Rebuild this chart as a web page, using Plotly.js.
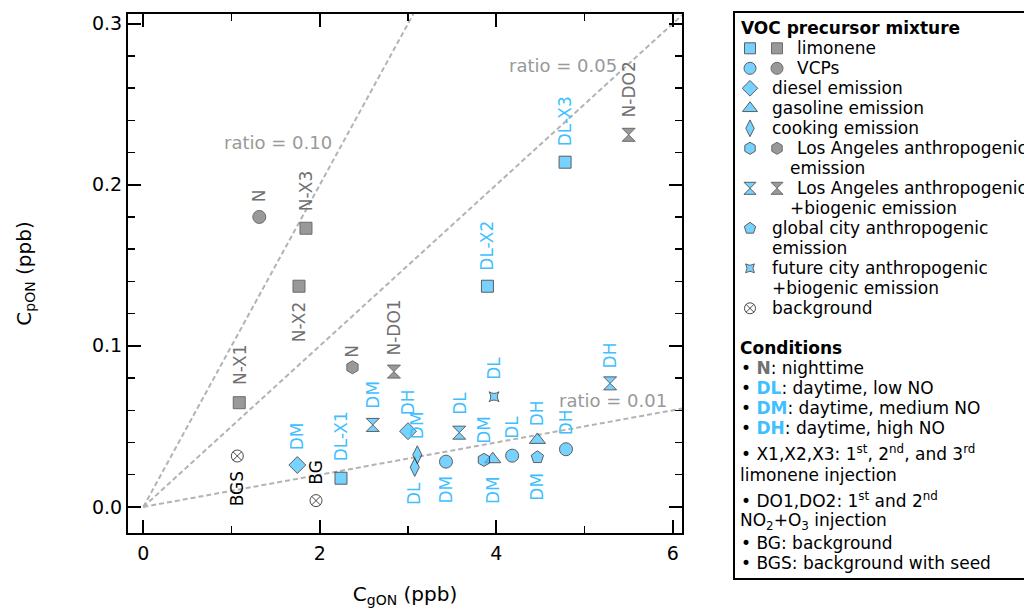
<!DOCTYPE html>
<html><head><meta charset="utf-8">
<script src="https://cdn.plot.ly/plotly-3.0.1.min.js"></script>
<style>html,body{margin:0;padding:0;background:#fff}#chart{width:1024px;height:608px}</style>
</head><body><div id="chart"></div>
<script>
// ---------------- data ----------------
const mixtureNames = ['limonene','VCPs','diesel emission','gasoline emission','cooking emission',
  'Los Angeles anthropogenic emission','Los Angeles anthropogenic +biogenic emission',
  'global city anthropogenic emission','future city anthropogenic +biogenic emission','background'];
const pointLabel = ['N-X1','N-X2','N-X3','N','N','N-DO1','N-DO2',
  'DL-X1','DL-X2','DL-X3','DM','DL','DH','DM','DH','DM','DH','DM','DL','DM','DM','DL','DH','DM','DL',
  'BGS','BG'];
const pointMixture = [0,0,0,1,5,6,6, 0,0,0,1,1,1,2,2,3,3,4,4,5,6,6,6,7,8, 9,9];
const pointCondition = ['N','N','N','N','N','N','N',
  'DL','DL','DL','DM','DL','DH','DM','DH','DM','DH','DM','DL','DM','DM','DL','DH','DM','DL',
  'BGS','BG'];
const gON = [1.087,1.764,1.843,1.314,2.37,2.84,5.50,
  2.24,3.90,4.78,3.43,4.18,4.79,1.745,3.00,3.96,4.466,3.105,3.076,3.86,2.60,3.58,5.29,4.466,3.975,
  1.065,1.957];
const pON = [0.0647,0.137,0.173,0.180,0.0867,0.084,0.231,
  0.0178,0.137,0.214,0.0281,0.0318,0.0358,0.026,0.047,0.0296,0.0416,0.0323,0.0246,0.0292,0.0509,0.0461,0.0767,0.0308,0.0684,
  0.0316,0.0039];
const ratios = [0.10, 0.05, 0.01];
const ratioLabels = ['ratio = 0.10','ratio = 0.05','ratio = 0.01'];
const xTickVals = [0,2,4,6];
const yTickVals = [0,0.1,0.2,0.3];

// ---------------- style / layout ----------------
const FONT = 'DejaVu Sans, Verdana, sans-serif';
const BLUE = '#3fbfff', GREY = '#6e6e6e', LGREY = '#707070';
const mixtureSymbol = ['square','circle','diamond','triangle-up','diamond-tall','hexagon','hourglass','pentagon','star-square','circle-x-open'];
const mixtureSize = [12,13,13,14,13,13,13,13,9,12];
const labelShift = [38,-36,37,21,16,44,45, 42,41,41,-28,28,27,29,29,-31,27,30,-26,30,30,29,28,-29,28, -33,28];
const ratioLabelAt = [[1.526,0.2264],[4.757,0.2742],[5.324,0.0658]];
const xRange = [-0.174, 6.105], yRange = [-0.0162, 0.306];
const W = 1024, H = 608;
const PL = 128, PR = 682, PT = 14, PB = 533;

function groupOf(c){ return c === 'N' ? 'night' : (c.indexOf('BG') === 0 ? 'bg' : 'day'); }
const gStyle = {
  night: {fill: GREY, line: '#2e2e2e', label: LGREY},
  day:   {fill: BLUE, line: '#1a1a1a', label: BLUE},
  bg:    {fill: '#000', line: '#000', label: '#000'}
};

const traces = [];
ratios.forEach(r => {
  const xEnd = Math.min(xRange[1], yRange[1] / r);
  traces.push({x:[0, xEnd], y:[0, r * xEnd], mode:'lines', xaxis:'x', yaxis:'y',
    line:{color:'#b3b3b3', width:2, dash:'5px,3px'}, hoverinfo:'skip', showlegend:false});
});
['night','day','bg'].forEach(g => {
  const idx = pointLabel.map((_, i) => i).filter(i => groupOf(pointCondition[i]) === g);
  traces.push({x: idx.map(i => gON[i]), y: idx.map(i => pON[i]), mode:'markers', xaxis:'x', yaxis:'y',
    marker:{symbol: idx.map(i => mixtureSymbol[pointMixture[i]]), size: idx.map(i => mixtureSize[pointMixture[i]]),
      color: gStyle[g].fill, line:{color: gStyle[g].line, width: 1}},
    showlegend:false, cliponaxis:false});
});

// legend (custom box) rows: one text line = 20 px
const mixtureDisplay = [['limonene'],['VCPs'],['diesel emission'],['gasoline emission'],['cooking emission'],
  ['Los Angeles anthropogenic','emission'],['Los Angeles anthropogenic','+biogenic emission'],
  ['global city anthropogenic','emission'],['future city anthropogenic','+biogenic emission'],['background']];
const rowY = []; let line = 0;
mixtureDisplay.forEach(d => { rowY.push(48.3 + 20 * line); line += d.length; });
const hasGroup = g => mixtureNames.map((_, m) => pointMixture.some((pm, i) => pm === m && groupOf(pointCondition[i]) === g));
const hasDay = hasGroup('day'), hasNight = hasGroup('night'), hasBg = hasGroup('bg');
function legendTrace(mask, xpx, g){
  const ms = mixtureNames.map((_, m) => m).filter(m => mask[m]);
  return {x: ms.map(() => xpx), y: ms.map(m => rowY[m]), xaxis:'x2', yaxis:'y2', mode:'markers',
    marker:{symbol: ms.map(m => mixtureSymbol[m]), size: ms.map(m => mixtureSize[m] - 1),
      color: gStyle[g].fill, line:{color: gStyle[g].line, width: 1}}, showlegend:false, hoverinfo:'skip'};
}
traces.push(legendTrace(hasDay, 750, 'day'));
traces.push(legendTrace(hasNight, 777, 'night'));
traces.push(legendTrace(hasBg, 750, 'bg'));

const px = x => x / W, py = y => 1 - y / H;
const annotations = [];
pointLabel.forEach((t, i) => annotations.push({x: gON[i], y: pON[i], xref:'x', yref:'y', text: t,
  showarrow:false, textangle:-90, yshift: labelShift[i], xanchor:'center', yanchor:'middle',
  font:{family: FONT, size: 17, color: gStyle[groupOf(pointCondition[i])].label}}));
ratioLabels.forEach((t, i) => annotations.push({x: ratioLabelAt[i][0], y: ratioLabelAt[i][1], xref:'x', yref:'y',
  text: t, showarrow:false, xanchor:'center', yanchor:'middle', font:{family: FONT, size: 18, color:'#999999'}}));

function txt(t, x, y, opts){
  annotations.push(Object.assign({x: px(x), y: py(y), xref:'paper', yref:'paper', text: t, showarrow:false,
    xanchor:'left', yanchor:'middle', font:{family: FONT, size: 17, color:'#000'}}, opts || {}));
}
txt('<b>VOC precursor mixture</b>', 739, 28.3);
mixtureDisplay.forEach((d, m) => {
  const two = hasNight[m] && hasDay[m];
  d.forEach((s, k) => txt(s, k === 0 ? (two ? 795 : 770) : (two ? 788 : 770), rowY[m] + 20 * k));
});
const bl = c => '<span style="color:' + c + '"><b>';
txt('<b>Conditions</b>', 738, 348.3);
txt('• ' + bl(LGREY) + 'N</b></span>: nighttime', 739, 368.3);
txt('• ' + bl(BLUE) + 'DL</b></span>: daytime, low NO', 739, 388.3);
txt('• ' + bl(BLUE) + 'DM</b></span>: daytime, medium NO', 739, 408.3);
txt('• ' + bl(BLUE) + 'DH</b></span>: daytime, high NO', 739, 428.3);
txt('• X1,X2,X3: 1<sup>st</sup>, 2<sup>nd</sup>, and 3<sup>rd</sup>', 739, 453);
txt('limonene injection', 738, 475);
txt('• DO1,DO2: 1<sup>st</sup> and 2<sup>nd</sup>', 739, 500);
txt('NO<sub>2</sub>+O<sub>3</sub> injection', 738, 521.7);
txt('• BG: background', 739, 543.3);
txt('• BGS: background with seed', 739, 563.3);

const axCommon = {showline:true, linewidth:2, linecolor:'#000', mirror:'allticks', ticks:'inside',
  ticklen:13, tickwidth:2, tickcolor:'#000', showgrid:false, zeroline:false,
  tickfont:{family: FONT, size: 19, color:'#000'}};
const layout = {
  width: W, height: H, margin:{l:0, r:0, t:0, b:0}, paper_bgcolor:'#fff', plot_bgcolor:'rgba(0,0,0,0)',
  showlegend:false,
  xaxis: Object.assign({}, axCommon, {domain:[PL / W, PR / W], range: xRange, tickvals: xTickVals,
    ticktext: xTickVals.map(v => String(v)), ticklabelstandoff: 2,
    minor:{ticks:'inside', ticklen:7, tickwidth:1.5, tickcolor:'#000', dtick:1, tick0:0},
    title:{text:'C<sub>gON</sub> (ppb)', font:{family: FONT, size: 20, color:'#000'}, standoff: 31},
    anchor:'y'}),
  yaxis: Object.assign({}, axCommon, {domain:[1 - PB / H, 1 - PT / H], range: yRange, tickvals: yTickVals,
    ticktext: yTickVals.map(v => v.toFixed(1)),
    minor:{ticks:'inside', ticklen:7, tickwidth:1.5, tickcolor:'#000', dtick:0.02, tick0:0},
    title:{text:'C<sub>pON</sub> (ppb)', font:{family: FONT, size: 20, color:'#000'}, standoff: 55},
    anchor:'x'}),
  xaxis2: {domain:[0, 1], range:[0, W], visible:false, anchor:'y2', fixedrange:true},
  yaxis2: {domain:[0, 1], range:[H, 0], visible:false, anchor:'x2', fixedrange:true},
  shapes:[{type:'rect', xref:'paper', yref:'paper', x0: px(734), x1: px(1030), y0: py(579), y1: py(12),
    line:{color:'#000', width:2}, fillcolor:'rgba(0,0,0,0)', layer:'below'}],
  annotations: annotations
};
Plotly.newPlot('chart', traces, layout, {displayModeBar:false, staticPlot:true});
</script></body></html>
